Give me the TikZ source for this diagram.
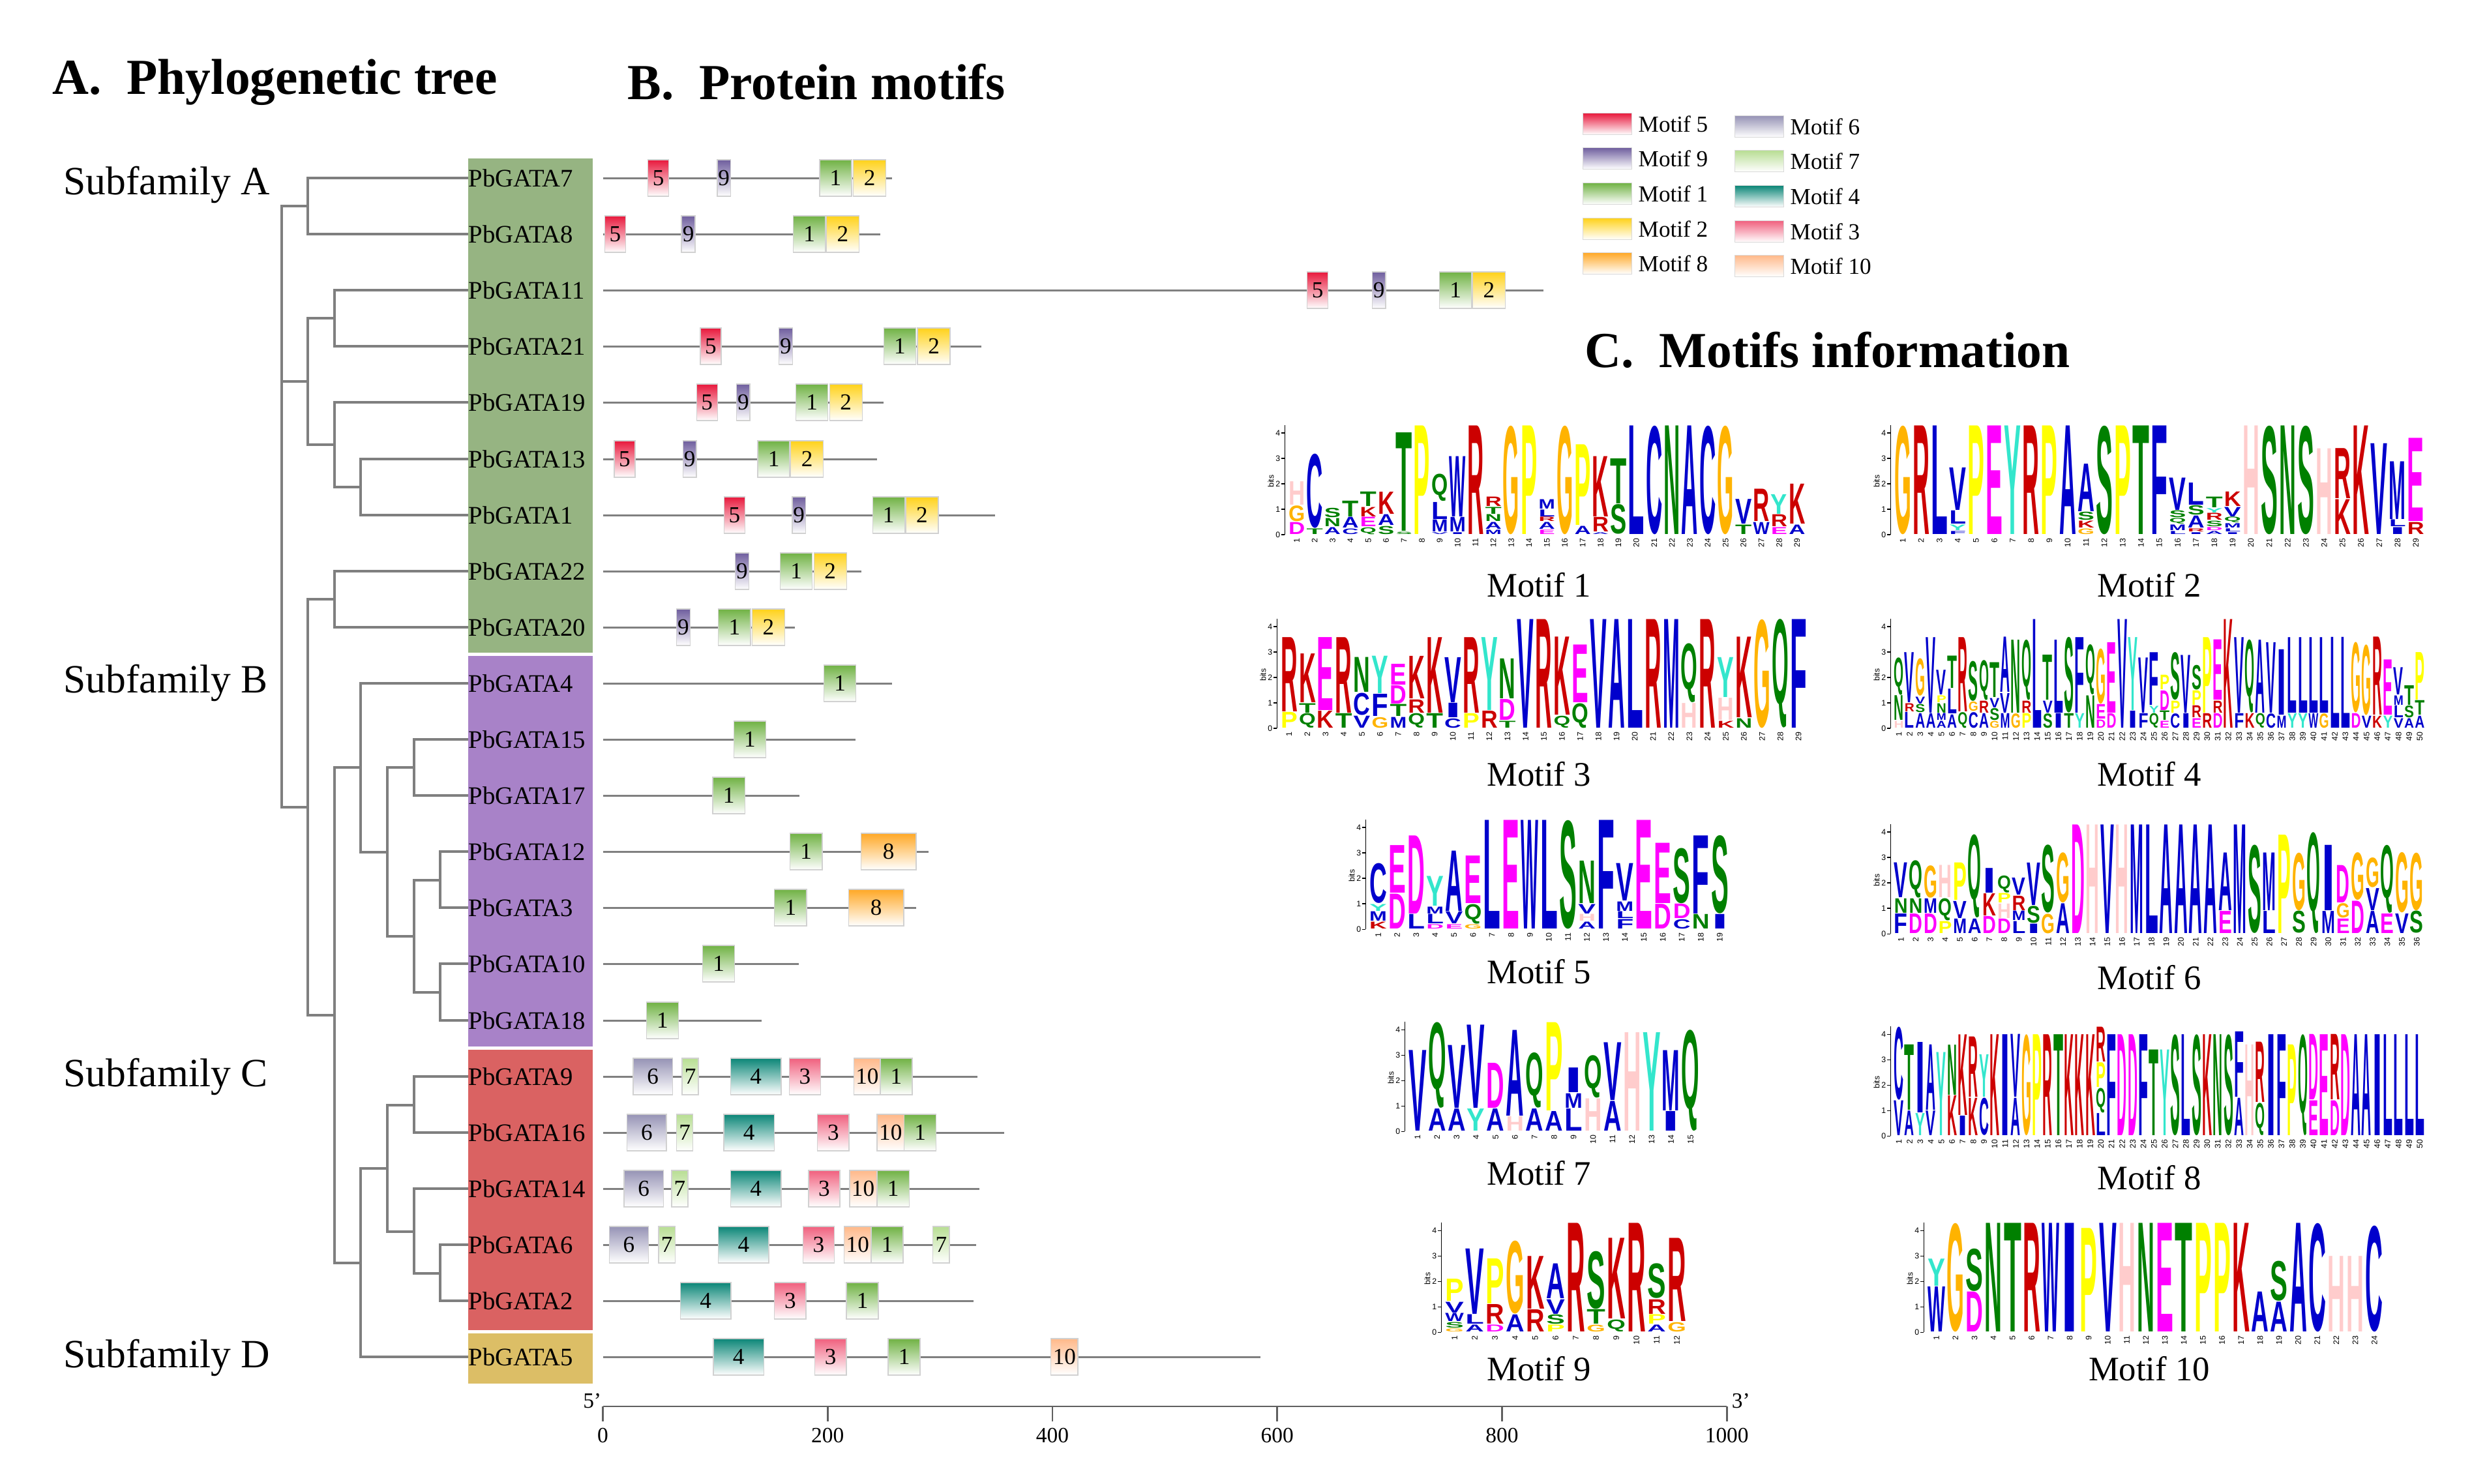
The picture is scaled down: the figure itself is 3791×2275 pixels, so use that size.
\documentclass[tikz,border=0pt]{standalone}
\usepackage{fontspec}
\setmainfont{Liberation Serif}
\newfontfamily\logofont{Liberation Sans}
\usepackage{graphicx}
\usepackage{tikz}
\usetikzlibrary{positioning}

% motif box colours
\definecolor{mc1}{HTML}{70B244}
\definecolor{mc2}{HTML}{FFD21A}
\definecolor{mc3}{HTML}{F0607E}
\definecolor{mc4}{HTML}{0B8677}
\definecolor{mc5}{HTML}{E8183C}
\definecolor{mc6}{HTML}{9693B5}
\definecolor{mc7}{HTML}{B8DE93}
\definecolor{mc8}{HTML}{FFA826}
\definecolor{mc9}{HTML}{6F5E9E}
\definecolor{mc10}{HTML}{FFB98A}
% subfamily blocks
\definecolor{blkA}{HTML}{96B482}
\definecolor{blkB}{HTML}{A882C8}
\definecolor{blkC}{HTML}{DA6262}
\definecolor{blkD}{HTML}{DCBE66}
\definecolor{treegray}{HTML}{7F7F7F}
\definecolor{linegray}{HTML}{808080}
\definecolor{axisgray}{HTML}{606060}
% logo letter colours
\definecolor{lgblue}{HTML}{0000CC}
\definecolor{lggreen}{HTML}{008000}
\definecolor{lgmag}{HTML}{FF00FF}
\definecolor{lgred}{HTML}{CC0000}
\definecolor{lgH}{HTML}{FFCCCC}
\definecolor{lgG}{HTML}{FFB300}
\definecolor{lgP}{HTML}{FFFF00}
\definecolor{lgY}{HTML}{33E6CC}
\colorlet{lgA}{lgblue}\colorlet{lgC}{lgblue}\colorlet{lgF}{lgblue}\colorlet{lgI}{lgblue}
\colorlet{lgL}{lgblue}\colorlet{lgM}{lgblue}\colorlet{lgV}{lgblue}\colorlet{lgW}{lgblue}
\colorlet{lgN}{lggreen}\colorlet{lgQ}{lggreen}\colorlet{lgS}{lggreen}\colorlet{lgT}{lggreen}
\colorlet{lgD}{lgmag}\colorlet{lgE}{lgmag}
\colorlet{lgK}{lgred}\colorlet{lgR}{lgred}

\def\bitpx{39}
% one stretched letter of a sequence logo
\newcommand{\logoletter}[3]{%
  \pgfmathsetmacro\ltw{0.0092*#2}%
  \pgfmathsetmacro\lth{0.01*(\bitpx*#3-1.2)}%
  \textcolor{lg#1}{\resizebox*{\ltw cm}{\lth cm}{\logofont\bfseries #1}}}
% sequence logo: name, left x, baseline y, column width, columns
\newcommand{\motiflogo}[5]{%
  \draw[LogoAxis] (#2-5,#3) -- (#2-5,{#3-4.3*\bitpx});
  \foreach \b in {0,...,4}{
    \draw[LogoAxis] (#2-5,{#3-\b*\bitpx}) -- (#2-10,{#3-\b*\bitpx});
    \node[LogoTick, anchor=east] (#1-y\b) at (#2-10,{#3-\b*\bitpx}) {\b};
  }
  \node[LogoTick, rotate=90] (#1-bits) at (#2-26,{#3-2.1*\bitpx}) {bits};
  \foreach \col [count=\ci] in {#5}{
    \gdef\stackbase{0}
    \foreach \ltr/\lht [count=\li] in \col{
      \node[Letter] (#1-\ci-\li) at ({#2+(\ci-1)*#4+0.04*#4},{#3-\stackbase*\bitpx-0.6}) {\logoletter{\ltr}{#4}{\lht}};
      \pgfmathsetmacro\nextbase{\stackbase+\lht}
      \xdef\stackbase{\nextbase}
    }
    \node[LogoTick, rotate=90, anchor=east] (#1-n\ci) at ({#2+(\ci-0.5)*#4},{#3+4}) {\ci};
  }
}

\begin{document}
\begin{tikzpicture}[x=0.01cm, y=-0.01cm]
	\tikzstyle{Title}	= [anchor=west, inner sep=0pt, font=\fontsize{22}{26}\selectfont\bfseries]
	\tikzstyle{Family}	= [anchor=west, inner sep=0pt, font=\fontsize{17.5}{20}\selectfont]
	\tikzstyle{Gene}	= [anchor=west, inner sep=0pt, font=\fontsize{11}{12}\selectfont]
	\tikzstyle{Branch}	= [draw=treegray, line width=0.9pt]
	\tikzstyle{Gline}	= [draw=linegray, line width=0.85pt]
	\tikzstyle{MBox}	= [draw=black!18, line width=0.4pt, inner sep=0pt, minimum height=0.56cm, anchor=west, font=\fontsize{10}{10}\selectfont]
	\tikzstyle{M1}		= [MBox, top color=mc1, bottom color=white, middle color=mc1!50, minimum width=0.491cm]
	\tikzstyle{M2}		= [MBox, top color=mc2, bottom color=white, middle color=mc2!50, minimum width=0.500cm]
	\tikzstyle{M3}		= [MBox, top color=mc3, bottom color=white, middle color=mc3!50, minimum width=0.482cm]
	\tikzstyle{M4}		= [MBox, top color=mc4, bottom color=white, middle color=mc4!50, minimum width=0.775cm]
	\tikzstyle{M5}		= [MBox, top color=mc5, bottom color=white, middle color=mc5!50, minimum width=0.319cm]
	\tikzstyle{M6}		= [MBox, top color=mc6, bottom color=white, middle color=mc6!50, minimum width=0.603cm]
	\tikzstyle{M7}		= [MBox, top color=mc7, bottom color=white, middle color=mc7!50, minimum width=0.250cm]
	\tikzstyle{M8}		= [MBox, top color=mc8, bottom color=white, middle color=mc8!50, minimum width=0.844cm]
	\tikzstyle{M9}		= [MBox, top color=mc9, bottom color=white, middle color=mc9!50, minimum width=0.207cm]
	\tikzstyle{M10}		= [MBox, top color=mc10, bottom color=white, middle color=mc10!50, minimum width=0.413cm]
	\tikzstyle{Swatch}	= [draw=black!15, line width=0.4pt, inner sep=0pt, minimum width=0.75cm, minimum height=0.33cm]
	\tikzstyle{LegText}	= [anchor=west, inner sep=0pt, font=\fontsize{10}{12}\selectfont]
	\tikzstyle{MotifName}	= [inner sep=0pt, font=\fontsize{15}{17}\selectfont]
	\tikzstyle{Letter}	= [anchor=south west, inner sep=0pt, outer sep=0pt]
	\tikzstyle{LogoAxis}	= [draw=black, line width=0.3pt]
	\tikzstyle{LogoTick}	= [inner sep=0.3pt, font=\fontsize{3.5}{4}\selectfont\logofont]
	\tikzstyle{Scale}	= [draw=axisgray, line width=0.8pt]
	\tikzstyle{ScaleNum}	= [anchor=north, inner sep=0pt, font=\fontsize{9.5}{11}\selectfont]

	\useasboundingbox (0,0) rectangle (3791,2275);

	% titles
	\node[Title] (tA) at (80,126) {A.\ \ Phylogenetic tree};
	\node[Title] (tB) at (962,126) {B.\ \ Protein motifs};
	\node[Title] (tC) at (2430,537) {C.\ \ Motifs information};

	% subfamily labels
	\node[Family] (fA) at (97,283) {Subfamily A};
	\node[Family] (fB) at (97,1047) {Subfamily B};
	\node[Family] (fC) at (97,1651) {Subfamily C};
	\node[Family] (fD) at (97,2082) {Subfamily D};

	% coloured blocks behind the gene names
	\fill[blkA] (718,243) rectangle (909,1001);
	\fill[blkB] (718,1006) rectangle (909,1605);
	\fill[blkC] (718,1610) rectangle (909,2040);
	\fill[blkD] (718,2045) rectangle (909,2122);

	% gene names
	\node[Gene] (g7)  at (718,273)  {PbGATA7};
	\node[Gene] (g8)  at (718,359)  {PbGATA8};
	\node[Gene] (g11) at (718,445)  {PbGATA11};
	\node[Gene] (g21) at (718,531)  {PbGATA21};
	\node[Gene] (g19) at (718,617)  {PbGATA19};
	\node[Gene] (g13) at (718,704)  {PbGATA13};
	\node[Gene] (g1)  at (718,790)  {PbGATA1};
	\node[Gene] (g22) at (718,876)  {PbGATA22};
	\node[Gene] (g20) at (718,962)  {PbGATA20};
	\node[Gene] (g4)  at (718,1048) {PbGATA4};
	\node[Gene] (g15) at (718,1134) {PbGATA15};
	\node[Gene] (g17) at (718,1220) {PbGATA17};
	\node[Gene] (g12) at (718,1306) {PbGATA12};
	\node[Gene] (g3)  at (718,1392) {PbGATA3};
	\node[Gene] (g10) at (718,1478) {PbGATA10};
	\node[Gene] (g18) at (718,1565) {PbGATA18};
	\node[Gene] (g9)  at (718,1651) {PbGATA9};
	\node[Gene] (g16) at (718,1737) {PbGATA16};
	\node[Gene] (g14) at (718,1823) {PbGATA14};
	\node[Gene] (g6)  at (718,1909) {PbGATA6};
	\node[Gene] (g2)  at (718,1995) {PbGATA2};
	\node[Gene] (g5)  at (718,2081) {PbGATA5};

	% tree
	\coordinate (t78)   at (472,316);
	\coordinate (t1121) at (513,488);
	\coordinate (t131)  at (553,747);
	\coordinate (t19x)  at (513,682);
	\coordinate (tA2)   at (472,585);
	\coordinate (t2220) at (513,919);
	\coordinate (t1517) at (635,1177);
	\coordinate (t123)  at (675,1350);
	\coordinate (t1018) at (675,1522);
	\coordinate (tB3)   at (635,1436);
	\coordinate (tB2)   at (594,1307);
	\coordinate (tB1)   at (553,1177);
	\coordinate (t916)  at (635,1695);
	\coordinate (t62)   at (675,1953);
	\coordinate (tC3)   at (635,1889);
	\coordinate (tC2)   at (594,1792);
	\coordinate (tCD)   at (553,1937);
	\coordinate (tBCD)  at (513,1557);
	\coordinate (tX)    at (472,1238);
	\coordinate (troot) at (432,777);

	\draw[Branch] (t78) |- (g7.west);
	\draw[Branch] (t78) |- (g8.west);
	\draw[Branch] (t1121) |- (g11.west);
	\draw[Branch] (t1121) |- (g21.west);
	\draw[Branch] (t131) |- (g13.west);
	\draw[Branch] (t131) |- (g1.west);
	\draw[Branch] (t19x) |- (g19.west);
	\draw[Branch] (t19x) |- (t131);
	\draw[Branch] (tA2) |- (t1121);
	\draw[Branch] (tA2) |- (t19x);
	\draw[Branch] (t2220) |- (g22.west);
	\draw[Branch] (t2220) |- (g20.west);
	\draw[Branch] (t1517) |- (g15.west);
	\draw[Branch] (t1517) |- (g17.west);
	\draw[Branch] (t123) |- (g12.west);
	\draw[Branch] (t123) |- (g3.west);
	\draw[Branch] (t1018) |- (g10.west);
	\draw[Branch] (t1018) |- (g18.west);
	\draw[Branch] (tB3) |- (t123);
	\draw[Branch] (tB3) |- (t1018);
	\draw[Branch] (tB2) |- (t1517);
	\draw[Branch] (tB2) |- (tB3);
	\draw[Branch] (tB1) |- (g4.west);
	\draw[Branch] (tB1) |- (tB2);
	\draw[Branch] (t916) |- (g9.west);
	\draw[Branch] (t916) |- (g16.west);
	\draw[Branch] (t62) |- (g6.west);
	\draw[Branch] (t62) |- (g2.west);
	\draw[Branch] (tC3) |- (g14.west);
	\draw[Branch] (tC3) |- (t62);
	\draw[Branch] (tC2) |- (t916);
	\draw[Branch] (tC2) |- (tC3);
	\draw[Branch] (tCD) |- (tC2);
	\draw[Branch] (tCD) |- (g5.west);
	\draw[Branch] (tBCD) |- (tB1);
	\draw[Branch] (tBCD) |- (tCD);
	\draw[Branch] (tX) |- (t2220);
	\draw[Branch] (tX) |- (tBCD);
	\draw[Branch] (troot) |- (t78);
	\draw[Branch] (troot) |- (tA2);
	\draw[Branch] (troot) |- (tX);

	% protein motifs, x in amino acids
	\begin{scope}[shift={(924.5,0)}, x=0.017225cm]
	\draw[Gline] (0,273) coordinate (s7) -- (257,273) coordinate (e7);
	\node[M5] (b7a) at (39.7,273) {5};
	\node[M9] (b7b) at (101.3,273) {9};
	\node[M1] (b7c) at (192.4,273) {1};
	\node[M2] (b7d) at (222.4,273) {2};

	\draw[Gline] (0,359) coordinate (s8) -- (247,359) coordinate (e8);
	\node[M5] (b8a) at (1.3,359) {5};
	\node[M9] (b8b) at (69.6,359) {9};
	\node[M1] (b8c) at (169.1,359) {1};
	\node[M2] (b8d) at (198.5,359) {2};

	\draw[Gline] (0,445) coordinate (s11) -- (837,445) coordinate (e11);
	\node[M5] (b11a) at (626.2,445) {5};
	\node[M9] (b11b) at (684,445) {9};
	\node[M1] (b11c) at (744,445) {1};
	\node[M2] (b11d) at (773.4,445) {2};

	\draw[Gline] (0,531) coordinate (s21) -- (337,531) coordinate (e21);
	\node[M5] (b21a) at (86.3,531) {5};
	\node[M9] (b21b) at (156.3,531) {9};
	\node[M1] (b21c) at (249.6,531) {1};
	\node[M2] (b21d) at (279.6,531) {2};

	\draw[Gline] (0,617) coordinate (s19) -- (250,617) coordinate (e19);
	\node[M5] (b19a) at (83,617) {5};
	\node[M9] (b19b) at (118.5,617) {9};
	\node[M1] (b19c) at (171.3,617) {1};
	\node[M2] (b19d) at (201.3,617) {2};

	\draw[Gline] (0,704) coordinate (s13) -- (244,704) coordinate (e13);
	\node[M5] (b13a) at (9.7,704) {5};
	\node[M9] (b13b) at (70.8,704) {9};
	\node[M1] (b13c) at (137.4,704) {1};
	\node[M2] (b13d) at (166.8,704) {2};

	\draw[Gline] (0,790) coordinate (s1) -- (349,790) coordinate (e1);
	\node[M5] (b1a) at (107.4,790) {5};
	\node[M9] (b1b) at (168,790) {9};
	\node[M1] (b1c) at (239.6,790) {1};
	\node[M2] (b1d) at (269,790) {2};

	\draw[Gline] (0,876) coordinate (s22) -- (230,876) coordinate (e22);
	\node[M9] (b22a) at (117.4,876) {9};
	\node[M1] (b22b) at (157.4,876) {1};
	\node[M2] (b22c) at (187.4,876) {2};

	\draw[Gline] (0,962) coordinate (s20) -- (171,962) coordinate (e20);
	\node[M9] (b20a) at (65.2,962) {9};
	\node[M1] (b20b) at (102.4,962) {1};
	\node[M2] (b20c) at (132.4,962) {2};

	\draw[Gline] (0,1048) coordinate (s4) -- (257,1048) coordinate (e4);
	\node[M1] (b4a) at (196.3,1048) {1};

	\draw[Gline] (0,1134) coordinate (s15) -- (225,1134) coordinate (e15);
	\node[M1] (b15a) at (116.1,1134) {1};

	\draw[Gline] (0,1220) coordinate (s17) -- (175,1220) coordinate (e17);
	\node[M1] (b17a) at (97.4,1220) {1};

	\draw[Gline] (0,1306) coordinate (s12) -- (290,1306) coordinate (e12);
	\node[M1] (b12a) at (166.2,1306) {1};
	\node[M8] (b12b) at (229.3,1306) {8};

	\draw[Gline] (0,1392) coordinate (s3) -- (279,1392) coordinate (e3);
	\node[M1] (b3a) at (152.3,1392) {1};
	\node[M8] (b3b) at (218.3,1392) {8};

	\draw[Gline] (0,1478) coordinate (s10) -- (174.5,1478) coordinate (e10);
	\node[M1] (b10a) at (88.4,1478) {1};

	\draw[Gline] (0,1565) coordinate (s18) -- (141,1565) coordinate (e18);
	\node[M1] (b18a) at (38.3,1565) {1};

	\draw[Gline] (0,1651) coordinate (s9) -- (333,1651) coordinate (e9);
	\node[M6] (b9a) at (26.5,1651) {6};
	\node[M7] (b9b) at (70.1,1651) {7};
	\node[M4] (b9c) at (113.3,1651) {4};
	\node[M3] (b9d) at (165.4,1651) {3};
	\node[M10] (b9e) at (222.8,1651) {10};
	\node[M1] (b9f) at (246.4,1651) {1};

	\draw[Gline] (0,1737) coordinate (s16) -- (357,1737) coordinate (e16);
	\node[M6] (b16a) at (21.2,1737) {6};
	\node[M7] (b16b) at (65.2,1737) {7};
	\node[M4] (b16c) at (107.1,1737) {4};
	\node[M3] (b16d) at (190.6,1737) {3};
	\node[M10] (b16e) at (243.6,1737) {10};
	\node[M1] (b16f) at (267.6,1737) {1};

	\draw[Gline] (0,1823) coordinate (s14) -- (335,1823) coordinate (e14);
	\node[M6] (b14a) at (18.4,1823) {6};
	\node[M7] (b14b) at (60.7,1823) {7};
	\node[M4] (b14c) at (113.3,1823) {4};
	\node[M3] (b14d) at (182.5,1823) {3};
	\node[M10] (b14e) at (219.1,1823) {10};
	\node[M1] (b14f) at (243.6,1823) {1};

	\draw[Gline] (0,1909) coordinate (s6) -- (332,1909) coordinate (e6);
	\node[M6] (b6a) at (5.3,1909) {6};
	\node[M7] (b6b) at (49.3,1909) {7};
	\node[M4] (b6c) at (102.3,1909) {4};
	\node[M3] (b6d) at (177.6,1909) {3};
	\node[M10] (b6e) at (214.3,1909) {10};
	\node[M1] (b6f) at (238.3,1909) {1};
	\node[M7] (b6g) at (293.3,1909) {7};

	\draw[Gline] (0,1995) coordinate (s2) -- (330,1995) coordinate (e2);
	\node[M4] (b2a) at (68.5,1995) {4};
	\node[M3] (b2b) at (152.3,1995) {3};
	\node[M1] (b2c) at (216.3,1995) {1};

	\draw[Gline] (0,2081) coordinate (s5) -- (585,2081) coordinate (e5);
	\node[M4] (b5a) at (97.8,2081) {4};
	\node[M3] (b5b) at (188.2,2081) {3};
	\node[M1] (b5c) at (253.4,2081) {1};
	\node[M10] (b5d) at (398.3,2081) {10};

	% length scale
	\draw[Scale] (0,2157) coordinate (ax0) -- (1000,2157) coordinate (ax1);
	\foreach \t in {0,200,...,1000}{
		\draw[Scale] (\t,2157) -- (\t,2180);
		\node[ScaleNum] (sn\t) at (\t,2190) {\t};
	}
	\node[ScaleNum, anchor=south east] (p5) at (-1,2160) {5'};
	\node[ScaleNum, anchor=south west] (p3) at (1004,2160) {3'};
	\end{scope}

	% legend
	\node[Swatch, top color=mc5, bottom color=white, middle color=mc5!50] (lg5) at (2465,190) {};
	\node[Swatch, top color=mc9, bottom color=white, middle color=mc9!50] (lg9) at (2465,243) {};
	\node[Swatch, top color=mc1, bottom color=white, middle color=mc1!50] (lg1) at (2465,297) {};
	\node[Swatch, top color=mc2, bottom color=white, middle color=mc2!50] (lg2) at (2465,351) {};
	\node[Swatch, top color=mc8, bottom color=white, middle color=mc8!50] (lg8) at (2465,404) {};
	\node[Swatch, top color=mc6, bottom color=white, middle color=mc6!50] (lg6) at (2698,194) {};
	\node[Swatch, top color=mc7, bottom color=white, middle color=mc7!50] (lg7) at (2698,247) {};
	\node[Swatch, top color=mc4, bottom color=white, middle color=mc4!50] (lg4) at (2698,301) {};
	\node[Swatch, top color=mc3, bottom color=white, middle color=mc3!50] (lg3) at (2698,355) {};
	\node[Swatch, top color=mc10, bottom color=white, middle color=mc10!50] (lg10) at (2698,408) {};
	\node[LegText] (lt5) at (2512,190) {Motif 5};
	\node[LegText] (lt9) at (2512,243) {Motif 9};
	\node[LegText] (lt1) at (2512,297) {Motif 1};
	\node[LegText] (lt2) at (2512,351) {Motif 2};
	\node[LegText] (lt8) at (2512,404) {Motif 8};
	\node[LegText] (lt6) at (2745,194) {Motif 6};
	\node[LegText] (lt7) at (2745,247) {Motif 7};
	\node[LegText] (lt4) at (2745,301) {Motif 4};
	\node[LegText] (lt3) at (2745,355) {Motif 3};
	\node[LegText] (lt10) at (2745,408) {Motif 10};

	% sequence logos
	\motiflogo{lA}{1975}{820}{27.4}{{D/.5,G/.65,H/.95},{T/.25,C/2.95},{A/.3,N/.35,S/.4},{C/.25,A/.45,T/.65},{Q/.3,E/.4,K/.4,T/.6},{S/.35,A/.45,K/.9},{S/.12,T/3.9},{P/4.3},{V/.1,M/.5,L/.7,Q/1.1},{I/.1,M/.6,W/2.4},{R/4.3},{M/.2,A/.3,N/.3,T/.3,R/.4},{G/4.3},{P/4.3},{E/.2,A/.3,R/.2,L/.3,M/.4},{G/4.3},{A/.35,P/3.2},{A/.1,R/.6,K/2.4},{S/1.2,T/1.8},{L/4.3},{C/4.3},{N/4.3},{A/4.3},{C/4.3},{G/4.3},{T/.4,V/1.0},{W/.5,R/1.3},{E/.3,R/.5,Y/.8},{A/.4,K/1.6}}
	\motiflogo{lB}{2904}{820}{28.1}{{G/4.3},{R/4.3},{L/4.3},{F/.15,Y/.25,L/.55,V/1.7},{P/4.3},{E/4.3},{Y/4.3},{R/4.3},{P/4.3},{A/4.3},{G/.25,K/.3,S/.35,A/1.9},{S/4.3},{P/4.3},{T/4.3},{F/4.3},{L/.15,M/.25,Q/.25,S/.3,V/1.3},{I/.1,R/.15,A/.5,S/.4,L/.9},{A/.15,D/.15,S/.25,R/.3,Y/.2,T/.45},{I/.1,L/.15,M/.2,Q/.25,V/.4,K/.6},{H/4.3},{S/4.3},{N/4.3},{S/4.3},{H/3.4},{K/1.4,R/2.0},{K/4.3},{V/3.6},{I/.3,L/.3,M/2.3},{R/.5,E/3.3}}
	\motiflogo{lC}{1963}{1117}{27.9}{{P/.65,R/2.95},{Q/.6,T/.4,K/1.95},{K/.7,E/2.9},{T/.6,R/3.0},{V/.5,C/.9,N/1.4},{G/.45,F/.9,Y/1.5},{M/.45,T/.5,D/.75,E/.85},{Q/.6,R/.55,K/1.7},{T/.6,K/3.0},{C/.4,I/.6,V/1.8},{P/.6,R/3.0},{R/.7,Y/2.9},{T/.3,D/.85,N/1.6},{V/4.3},{R/4.3},{Q/.5,K/3.1},{Q/1.0,E/2.3},{V/4.3},{A/4.3},{L/4.3},{R/4.3},{M/4.3},{H/1.0,Q/2.35},{R/4.3},{K/.3,H/.9,Y/1.6},{N/.4,K/3.2},{G/4.3},{Q/4.3},{F/4.3}}
	\motiflogo{lD}{2904}{1117}{16.3}{{H/.3,N/1.0,Q/1.5},{L/.65,R/.35,V/2.0},{A/.6,S/.35,V/.3,G/1.5},{A/.6,V/3.0},{A/.3,M/.3,N/.4,P/.3,V/1.0},{A/.55,L/1.0,T/1.3},{Q/.65,R/2.95},{C/.65,G/.4,S/1.6},{A/.6,R/.5,Q/1.6},{G/.3,S/.5,V/.4,T/1.4},{M/.6,V/.8,A/2.2},{G/.6,N/2.9},{P/.6,R/.5,Q/2.4},{L/4.3},{S/.6,V/.5,T/1.8},{I/.6,L/2.9},{T/.6,S/3.0},{Y/.6,F/3.0},{N/1.3,Q/2.0},{D/.35,E/.6,G/2.2},{D/.6,E/2.8},{V/4.3},{I/.7,Y/2.9},{F/.6,V/2.2},{Q/.6,Y/.3,F/2.1},{E/.3,T/.4,D/.8,P/.6},{C/.6,P/.5,S/1.9},{I/.6,V/2.3},{E/.4,R/.5,P/.6,S/1.0},{R/.6,P/3.0},{D/.6,R/.5,E/2.4},{K/4.3},{F/.6,V/3.0},{K/.6,Q/2.9},{Q/.6,A/2.9},{C/.6,V/2.8},{M/.5,I/2.6},{Y/.6,L/3.0},{Y/.6,L/3.0},{W/.6,L/3.0},{G/.6,L/3.0},{L/3.6},{L/3.6},{D/.6,G/2.8},{V/.5,G/2.8},{K/.5,R/3.1},{Y/.5,E/2.2},{V/.4,L/.5,M/.4,V/1.1},{A/.4,S/.5,T/.8},{A/.5,T/.6,P/1.9}}
	\motiflogo{lE}{2099}{1425}{29.1}{{K/.3,M/.4,Y/.3,C/1.6},{D/1.4,E/1.9},{L/.6,D/3.1},{D/.2,L/.4,M/.3,Y/1.2},{E/.2,V/.5,A/2.4},{G/.2,Q/.8,E/1.9},{L/4.3},{E/4.3},{W/4.3},{L/4.3},{S/4.3},{A/.3,H/.3,V/.4,N/1.7},{F/4.3},{F/.4,L/.3,M/.4,V/1.5},{E/4.3},{D/1.0,E/2.4},{C/.4,D/.6,S/2.2},{N/.6,F/3.1},{I/.6,S/3.1}}
	\motiflogo{lF}{2904}{1432}{22.6}{{F/.8,N/.6,V/1.4},{D/.8,N/.6,Q/1.5},{D/.8,M/.6,G/1.3},{P/.5,Q/.9,H/1.3},{M/.6,V/.7,P/1.5},{A/.6,Q/3.3},{D/.7,K/.9,I/1.0},{D/.6,H/.6,P/.4,Q/.7},{L/.5,M/.4,R/.6,V/.7},{I/.4,S/.7,V/1.7},{G/.8,S/2.7},{A/1.2,G/2.0},{D/4.3},{H/4.3},{V/4.3},{H/4.3},{M/4.3},{L/4.3},{A/4.3},{A/4.3},{A/4.3},{A/4.3},{E/.9,A/2.3},{M/4.3},{S/3.5},{L/.9,M/2.3},{P/3.9},{S/.9,G/2.3},{Q/4.0},{M/.9,I/2.6},{E/.6,G/.6,D/1.5},{D/1.3,G/1.9},{A/.9,V/.9,G/1.2},{E/.8,Q/2.7},{V/.8,G/2.4},{S/.9,G/2.3}}
	\motiflogo{lG}{2159}{1735}{29.9}{{V/3.2},{A/.9,Q/3.4},{A/.9,V/2.5},{Y/.9,V/3.3},{A/.9,D/1.8},{H/.6,A/3.4},{A/.9,Q/2.2},{A/.8,P/3.5},{L/.9,M/.6,I/1.0},{H/1.3,Q/1.7},{A/1.2,V/2.3},{H/3.9},{Y/3.9},{I/.8,M/2.4},{Q/4.0}}
	\motiflogo{lH}{2904}{1742}{16.3}{{V/1.4,C/2.9},{A/1.0,T/2.6},{Y/.9,I/2.8},{V/1.0,A/2.6},{Y/3.3},{K/1.6,N/2.0},{I/.8,K/3.2},{K/1.5,R/2.4},{C/1.5,Y/1.7},{K/4.0},{I/4.0},{A/1.5,V/2.5},{G/4.0},{P/4.0},{R/4.0},{T/4.0},{K/4.0},{K/4.0},{K/4.0},{L/.9,Q/1.0,P/1.0,R/1.4},{F/4.0},{D/4.0},{D/4.0},{F/4.0},{T/3.4},{Y/3.4},{S/4.0},{L/4.0},{S/4.0},{K/4.0},{N/4.0},{S/4.0},{A/1.5,F/2.6},{H/3.6},{Q/1.3,R/2.4},{I/4.0},{F/4.0},{P/3.6},{Q/4.0},{E/1.4,D/2.6},{E/4.0},{D/1.4,R/2.6},{D/4.0},{A/4.0},{A/4.0},{I/4.0},{L/4.0},{L/4.0},{L/4.0},{L/4.0}}
	\motiflogo{lI}{2215}{2043}{31}{{G/.15,S/.25,W/.35,V/.45,P/.9},{A/.3,L/.4,V/2.6},{D/.3,R/.8,P/1.8},{A/.7,G/2.9},{R/.9,K/2.1},{P/.3,S/.4,V/.6,A/1.4},{R/4.3},{G/.3,T/.6,S/2.3},{Q/.5,K/3.2},{R/4.3},{A/.3,P/.4,R/.6,S/1.4},{G/.4,R/3.3}}
	\motiflogo{lJ}{2955}{2043}{29.2}{{W/1.8,Y/1.1},{G/4.3},{D/1.6,S/1.7},{N/4.3},{T/4.3},{R/4.3},{W/4.3},{I/4.3},{P/4.1},{V/4.3},{H/4.3},{N/4.3},{E/4.3},{T/4.3},{P/4.3},{P/4.3},{K/4.3},{A/1.6},{A/1.2,S/1.6},{A/4.3},{C/4.3},{H/3.0},{H/3.0},{C/4.2}}

	% logo captions
	\node[MotifName] (mn1)  at (2360,897)  {Motif 1};
	\node[MotifName] (mn2)  at (3296,897)  {Motif 2};
	\node[MotifName] (mn3)  at (2360,1187) {Motif 3};
	\node[MotifName] (mn4)  at (3296,1187) {Motif 4};
	\node[MotifName] (mn5)  at (2360,1490) {Motif 5};
	\node[MotifName] (mn6)  at (3296,1499) {Motif 6};
	\node[MotifName] (mn7)  at (2360,1799) {Motif 7};
	\node[MotifName] (mn8)  at (3296,1806) {Motif 8};
	\node[MotifName] (mn9)  at (2360,2099) {Motif 9};
	\node[MotifName] (mn10) at (3296,2099) {Motif 10};
\end{tikzpicture}
\end{document}
